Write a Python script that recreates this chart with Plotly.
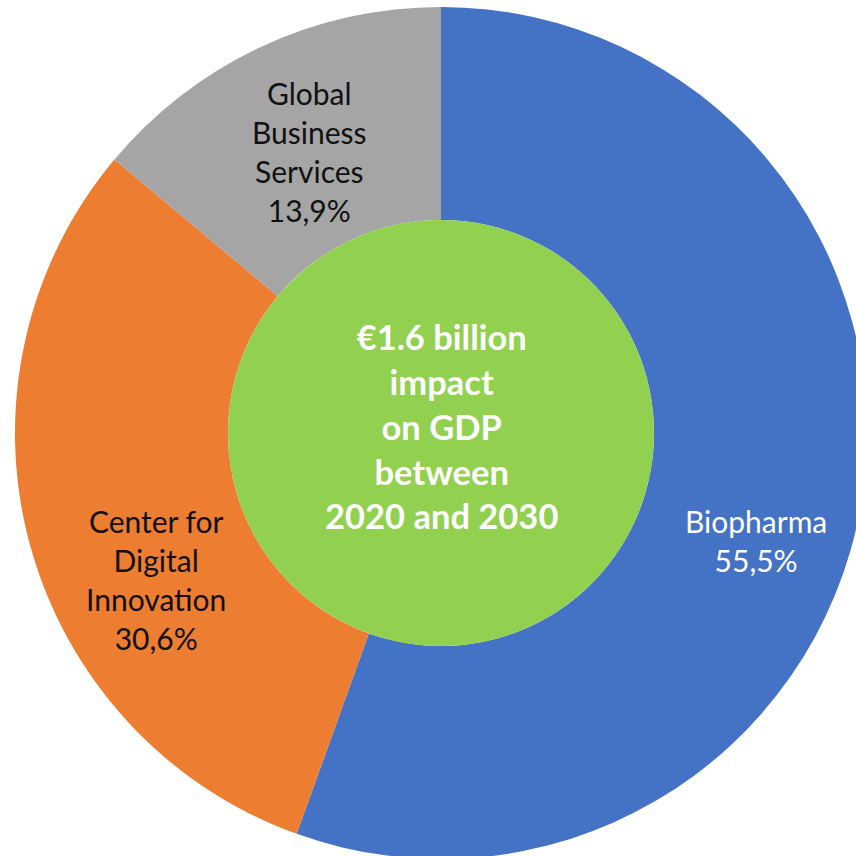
import plotly.graph_objects as go

labels = ["Biopharma", "Center for Digital Innovation", "Global Business Services"]
label_lines = ["Biopharma", "Center for<br>Digital<br>Innovation", "Global<br>Business<br>Services"]
shares = [55.5, 30.6, 13.9]
colors = ["#4472C4", "#ED7D31", "#A5A5A5"]
label_colors = ["white", "#111111", "#111111"]
center_text = "€1.6 billion<br>impact<br>on GDP<br>between<br>2020 and 2030"

W, H = 882, 866
ML, MR, MT, MB = 15, 15, 7, 7
PW, PH = W - ML - MR, H - MT - MB

def px(x, y):
    return (x - ML) / PW, 1 - (y - MT) / PH

fig = go.Figure()
fig.add_trace(go.Pie(
    labels=labels, values=shares, sort=False, direction="clockwise", rotation=0,
    hole=0.5, marker=dict(colors=colors, line=dict(width=0)),
    textinfo="none", hoverinfo="skip", showlegend=False,
    domain=dict(x=[0, 1], y=[0, 1]),
))
rc = 213
fig.add_trace(go.Pie(
    labels=["center"], values=[1], marker=dict(colors=["#92D050"], line=dict(width=0)),
    textinfo="none", hoverinfo="skip", showlegend=False,
    domain=dict(x=[0.5 - rc / PW, 0.5 + rc / PW], y=[0.5 - rc / PH, 0.5 + rc / PH]),
))

label_pos = [(756, 540), (156, 579), (309, 151)]
for lines, val, col, (x, y) in zip(label_lines, shares, label_colors, label_pos):
    xp, yp = px(x, y)
    fig.add_annotation(
        x=xp, y=yp, xref="paper", yref="paper", showarrow=False,
        xanchor="center", yanchor="middle",
        text=f"{lines}<br>{val:.1f}%".replace(".", ","),
        font=dict(family="Lato", size=30, color=col), align="center",
    )

xp, yp = px(441, 426)
fig.add_annotation(
    x=xp, y=yp, xref="paper", yref="paper", showarrow=False,
    xanchor="center", yanchor="middle",
    text=center_text, font=dict(family="Lato", size=34.5, color="white", weight="bold"),
    align="center",
)

fig.update_layout(
    width=W, height=H, margin=dict(l=ML, r=MR, t=MT, b=MB),
    paper_bgcolor="white", plot_bgcolor="white",
)

fig.write_html("out.html", post_script="document.body.style.margin='0';document.body.style.overflow='hidden';document.documentElement.style.overflow='hidden';")
